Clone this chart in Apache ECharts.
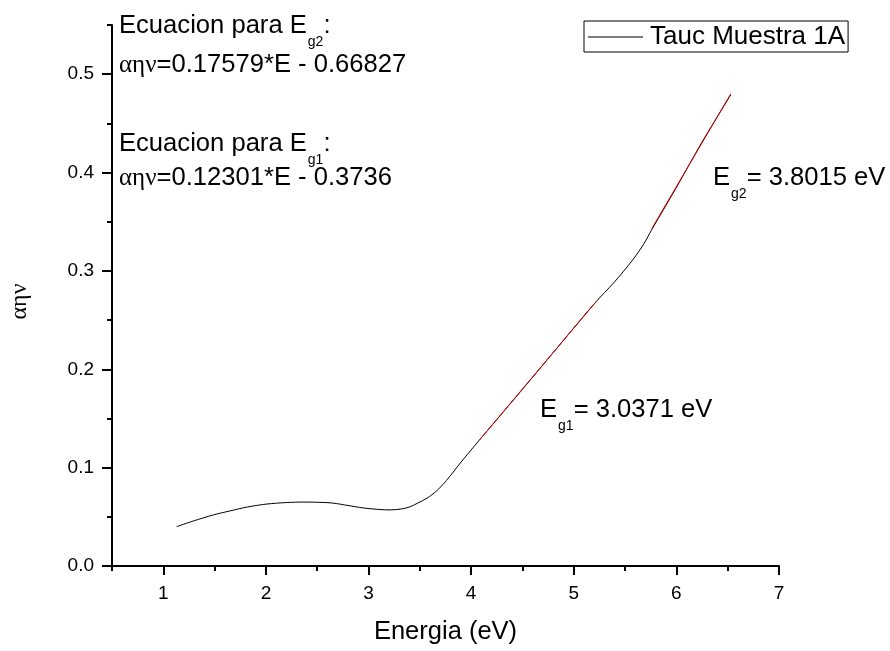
<!DOCTYPE html>
<html>
<head>
<meta charset="utf-8">
<script src="https://cdn.jsdelivr.net/npm/echarts@6/dist/echarts.min.js"></script>
<style>
  html, body { margin: 0; padding: 0; background: #fff; }
  #main { width: 890px; height: 651px; }
</style>
</head>
<body>
<div id="main"></div>
<script>
// curva Tauc
const energia = [1.13, 1.3, 1.49, 1.65, 1.82, 2.01, 2.2, 2.36, 2.5, 2.65, 2.8, 2.95, 3.1, 3.21, 3.32, 3.40, 3.48, 3.57, 3.66, 3.76, 3.84, 3.92, 4.0, 4.08, 4.3, 4.64, 5.08, 5.22, 5.3, 5.39, 5.48, 5.58, 5.68, 5.76, 5.99, 6.25, 6.53];
const tauc = [0.040, 0.046, 0.052, 0.056, 0.060, 0.063, 0.0645, 0.065, 0.0648, 0.064, 0.0615, 0.059, 0.0575, 0.057, 0.058, 0.060, 0.064, 0.069, 0.076, 0.087, 0.0975, 0.108, 0.118, 0.128, 0.155, 0.197, 0.252, 0.269, 0.278, 0.288, 0.299, 0.312, 0.327, 0.342, 0.383, 0.431, 0.479];

// tramos de ajuste lineal (rojo)
const ajuste1E = [4.08, 5.22];
const ajuste1V = [0.128, 0.269];
const ajuste2E = [5.76, 6.53];
const ajuste2V = [0.343, 0.480];

const xTicks = [1, 2, 3, 4, 5, 6, 7];
const xMinor = [0.5, 1.5, 2.5, 3.5, 4.5, 5.5, 6.5];
const yTicks = [0, 0.1, 0.2, 0.3, 0.4, 0.5];
const yMinor = [0.05, 0.15, 0.25, 0.35, 0.45, 0.55];

const serieNombre = 'Tauc Muestra 1A';

const pares = (xs, ys) => xs.map((x, i) => [x, ys[i]]);

const chart = echarts.init(document.getElementById('main'), null, { renderer: 'canvas' });

const fuente = 'Liberation Sans, Arial, sans-serif';
const griega = 'Liberation Serif, DejaVu Serif, serif';
const ejeLinea = { show: true, lineStyle: { color: '#000', width: 2 } };

const textoRico = {
  a: { fontFamily: fuente, fontSize: 25.6, color: '#000', verticalAlign: 'top', lineHeight: 26 },
  s: { fontFamily: fuente, fontSize: 14, color: '#000', verticalAlign: 'top', lineHeight: 14, padding: [22, 0, 0, 1] },
  g: { fontFamily: griega, fontSize: 25, color: '#000', verticalAlign: 'top', lineHeight: 26, padding: [1, 0, 0, 0] }
};

function texto(x, y, t) {
  return { type: 'text', left: x, top: y, style: { text: t, rich: textoRico } };
}

const option = {
  backgroundColor: '#fff',
  animation: false,
  grid: { left: 110, right: 111, top: 25, bottom: 85 },
  legend: {
    data: [{ name: serieNombre, icon: 'rect' }],
    left: 584,
    top: 21,
    padding: [3, 3, 2, 4],
    itemWidth: 55,
    itemHeight: 1,
    itemStyle: { color: '#000' },
    borderColor: '#000',
    borderWidth: 1,
    borderRadius: 0,
    textStyle: { fontFamily: fuente, fontSize: 26, color: '#000', padding: [0, 0, 0, 2] }
  },
  xAxis: [{
    type: 'value',
    min: 0.5,
    max: 7,
    name: 'Energia (eV)',
    nameLocation: 'middle',
    nameGap: 53,
    nameTextStyle: { fontFamily: fuente, fontSize: 25.5, color: '#000' },
    axisLine: ejeLinea,
    axisTick: { show: true, length: 9, lineStyle: { width: 2, color: '#000' }, customValues: xTicks },
    axisLabel: { customValues: xTicks, margin: 18, fontFamily: fuente, fontSize: 19, color: '#000' },
    splitLine: { show: false }
  }, {
    type: 'value',
    min: 0.5,
    max: 7,
    position: 'bottom',
    axisLine: { show: false },
    axisTick: { show: true, length: 5, lineStyle: { width: 2, color: '#000' }, customValues: xMinor },
    axisLabel: { show: false },
    splitLine: { show: false }
  }],
  yAxis: [{
    type: 'value',
    min: 0,
    max: 0.55,
    name: 'αην',
    nameLocation: 'middle',
    nameRotate: 90,
    nameGap: 80,
    nameTextStyle: { fontFamily: griega, fontSize: 24, color: '#000', padding: [0, 12, 0, 0] },
    axisLine: ejeLinea,
    axisTick: { show: true, length: 10, lineStyle: { width: 2, color: '#000' }, customValues: yTicks },
    axisLabel: {
      customValues: yTicks,
      margin: 18,
      fontFamily: fuente,
      fontSize: 19,
      color: '#000',
      formatter: v => v.toFixed(1)
    },
    splitLine: { show: false }
  }, {
    type: 'value',
    min: 0,
    max: 0.55,
    position: 'left',
    axisLine: { show: false },
    axisTick: { show: true, length: 5, lineStyle: { width: 2, color: '#000' }, customValues: yMinor },
    axisLabel: { show: false },
    splitLine: { show: false }
  }],
  series: [{
    name: serieNombre,
    type: 'line',
    data: pares(energia, tauc),
    symbol: 'none',
    smooth: 0.3,
    lineStyle: { color: '#000', width: 1 },
    itemStyle: { color: '#000' },
    z: 2
  }, {
    name: 'ajuste1',
    type: 'line',
    data: pares(ajuste1E, ajuste1V),
    symbol: 'none',
    lineStyle: { color: '#e00000', width: 1 },
    z: 3
  }, {
    name: 'ajuste2',
    type: 'line',
    data: pares(ajuste2E, ajuste2V),
    symbol: 'none',
    lineStyle: { color: '#e00000', width: 1 },
    z: 3
  }],
  graphic: [
    texto(119, 13, '{a|Ecuacion para E}{s|g2}{a|:}'),
    texto(119, 52, '{g|αην}{a|=0.17579*E - 0.66827}'),
    texto(119, 131, '{a|Ecuacion para E}{s|g1}{a|:}'),
    texto(119, 165, '{g|αην}{a|=0.12301*E - 0.3736}'),
    texto(713, 165, '{a|E}{s|g2}{a|= 3.8015 eV}'),
    texto(540, 397, '{a|E}{s|g1}{a|= 3.0371 eV}')
  ]
};

chart.setOption(option);
</script>
</body>
</html>
